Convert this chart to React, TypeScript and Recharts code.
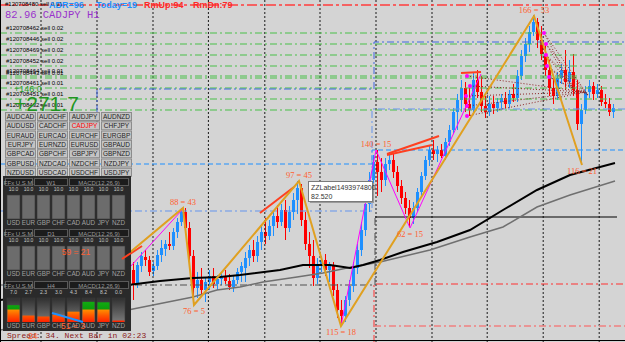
import React from 'react'
import { ComposedChart, XAxis, YAxis, Bar, Line, Scatter, ReferenceLine } from 'recharts'

const W = 625
const H = 342
const P_MIN = 81.548
const P_MAX = 83.6
const BARS = 156.25

// CADJPY H1 candles, first one sits at bar 32
const FIRST_BAR = 32
// [open, high, low, close]
const ohlc: [number, number, number, number][] = [
  [82.028, 82.070, 81.860, 81.920], [81.980, 82.028, 81.800, 81.890], [81.896, 82.028, 81.872, 82.010],
  [82.004, 82.088, 81.968, 82.064], [82.058, 82.100, 82.004, 82.040], [82.040, 82.064, 81.944, 81.968],
  [81.974, 82.028, 81.944, 82.004], [82.004, 82.100, 81.980, 82.070], [82.070, 82.160, 82.028, 82.112],
  [82.106, 82.160, 82.064, 82.136], [82.136, 82.208, 82.100, 82.124], [82.124, 82.232, 82.100, 82.208],
  [82.208, 82.292, 82.172, 82.268], [82.268, 82.352, 82.244, 82.328], [82.328, 82.352, 82.208, 82.232],
  [82.232, 82.268, 82.028, 82.064], [82.064, 82.100, 81.770, 81.872], [81.872, 81.968, 81.812, 81.920],
  [81.920, 81.992, 81.824, 81.860], [81.860, 81.932, 81.788, 81.908], [81.908, 81.980, 81.860, 81.944],
  [81.944, 81.992, 81.872, 81.896], [81.896, 81.950, 81.860, 81.926], [81.926, 81.968, 81.890, 81.944],
  [81.944, 81.980, 81.896, 81.914], [81.914, 81.956, 81.860, 81.878], [81.878, 81.944, 81.848, 81.920],
  [81.920, 81.992, 81.896, 81.968], [81.968, 82.028, 81.908, 82.004], [81.992, 82.088, 81.908, 82.052],
  [82.052, 82.130, 82.004, 82.100], [82.100, 82.160, 82.028, 82.064], [82.064, 82.184, 82.028, 82.148],
  [82.148, 82.244, 82.100, 82.208], [82.208, 82.292, 82.136, 82.184], [82.184, 82.280, 82.160, 82.244],
  [82.244, 82.340, 82.184, 82.304], [82.304, 82.370, 82.232, 82.268], [82.268, 82.376, 82.244, 82.340],
  [82.340, 82.400, 82.160, 82.232], [82.232, 82.364, 82.208, 82.328], [82.328, 82.442, 82.280, 82.400],
  [82.400, 82.514, 82.316, 82.472], [82.472, 82.496, 82.244, 82.280], [82.280, 82.328, 82.100, 82.136],
  [82.136, 82.208, 81.992, 82.064], [82.064, 82.160, 81.884, 81.932], [81.932, 82.052, 81.896, 82.016],
  [82.016, 82.064, 81.968, 82.040], [82.040, 82.076, 81.944, 81.980], [81.980, 82.028, 81.908, 82.004],
  [82.004, 82.028, 81.824, 81.860], [81.860, 81.896, 81.692, 81.740], [81.740, 81.800, 81.644, 81.704],
  [81.704, 81.824, 81.668, 81.800], [81.800, 81.920, 81.764, 81.884], [81.884, 82.028, 81.848, 81.992],
  [81.992, 82.136, 81.956, 82.100], [82.100, 82.268, 82.064, 82.220], [82.220, 82.424, 82.184, 82.376],
  [82.376, 82.568, 82.328, 82.520], [82.520, 82.670, 82.460, 82.628], [82.628, 82.700, 82.424, 82.568],
  [82.568, 82.652, 82.448, 82.520], [82.520, 82.652, 82.484, 82.616], [82.616, 82.688, 82.580, 82.640],
  [82.640, 82.682, 82.532, 82.568], [82.568, 82.604, 82.448, 82.484], [82.484, 82.520, 82.376, 82.412],
  [82.412, 82.448, 82.316, 82.352], [82.352, 82.400, 82.238, 82.292], [82.292, 82.388, 82.256, 82.352],
  [82.352, 82.472, 82.328, 82.448], [82.448, 82.568, 82.424, 82.544], [82.544, 82.664, 82.520, 82.640],
  [82.640, 82.724, 82.604, 82.700], [82.700, 82.760, 82.640, 82.676], [82.676, 82.724, 82.628, 82.700],
  [82.700, 82.736, 82.652, 82.664], [82.664, 82.772, 82.640, 82.748], [82.748, 82.850, 82.724, 82.820],
  [82.820, 82.952, 82.796, 82.928], [82.928, 83.036, 82.820, 83.000], [83.000, 83.120, 82.928, 83.072],
  [83.072, 83.108, 82.928, 82.976], [82.976, 83.084, 82.904, 82.940], [82.940, 83.168, 82.916, 83.120],
  [83.120, 83.180, 83.012, 83.048], [83.048, 83.144, 82.928, 82.964], [82.964, 83.024, 82.892, 82.928],
  [82.928, 83.024, 82.904, 82.976], [82.976, 83.024, 82.916, 82.952], [82.952, 83.012, 82.928, 82.988],
  [82.988, 83.036, 82.940, 83.012], [83.012, 83.048, 82.952, 82.976], [82.976, 83.060, 82.952, 83.036],
  [83.036, 83.096, 82.988, 83.012], [83.012, 83.180, 82.988, 83.144], [83.144, 83.300, 83.120, 83.264],
  [83.264, 83.372, 83.228, 83.336], [83.336, 83.444, 83.288, 83.408], [83.408, 83.510, 83.384, 83.468],
  [83.468, 83.492, 83.312, 83.360], [83.360, 83.444, 83.240, 83.276], [83.276, 83.336, 83.144, 83.180],
  [83.180, 83.240, 83.024, 83.072], [83.072, 83.132, 82.976, 83.024], [83.024, 83.168, 83.000, 83.132],
  [83.132, 83.216, 83.096, 83.180], [83.180, 83.300, 83.060, 83.108], [83.108, 83.240, 83.072, 83.168],
  [83.168, 83.276, 83.024, 83.060], [83.060, 83.120, 82.820, 82.856], [82.856, 82.976, 82.610, 82.940],
  [82.940, 83.084, 82.916, 83.048], [83.048, 83.120, 83.012, 83.084], [83.084, 83.108, 83.000, 83.036],
  [83.036, 83.096, 83.012, 83.060], [83.060, 83.084, 82.964, 82.988], [82.988, 83.036, 82.952, 82.976],
  [82.976, 83.012, 82.904, 82.928], [82.928, 82.976, 82.892, 82.952],
]

// moving averages, read at a few bars: [bar, price]
const MA_FAST: [number, number][] = [
  [0, 81.80], [32, 81.890], [40, 81.914], [48.25, 81.932], [55, 81.938], [60, 81.950], [70, 81.980],
  [75.75, 82.010], [82.5, 82.010], [87.5, 81.992], [90.75, 82.010], [95, 82.040], [100.75, 82.088],
  [109.25, 82.148], [117.5, 82.220], [125.75, 82.340], [134.25, 82.460], [142.5, 82.550], [153.75, 82.622],
]
const MA_SLOW: [number, number][] = [
  [0, 81.62], [32, 81.740], [40.75, 81.782], [48.25, 81.818], [54.25, 81.860], [60, 81.878], [65.75, 81.908],
  [74.25, 81.938], [80.75, 81.962], [86.75, 81.992], [95, 82.028], [107.5, 82.100], [117.5, 82.178],
  [125.75, 82.238], [134.25, 82.358], [142.5, 82.430], [153.75, 82.514],
]

// zigzag swings
const ZIGZAG: [number, number][] = [
  [18.25, 81.800], [45.75, 82.352], [48.5, 81.770], [74.75, 82.514], [85.25, 81.644], [133.5, 83.504], [145.5, 82.610],
]
const ZIGZAG_TEXT = ['', '88 = 43', '76 = 5', '97 = 45', '115 = 18', '166 = 53', '116 = 21']
const ZIGZAG_UP = [false, true, false, true, false, true, false]

const MINOR_ZZ_A: [number, number][] = [[27.5, 81.866], [45.5, 82.340]]
const MINOR_ZZ_B: [number, number][] = [[85.25, 81.644], [94, 82.700], [102.5, 82.232], [120.25, 83.156]]
const MINOR_ZZ_B_TEXT = ['', '140 = 15', '62 = 15', '']
const MINOR_ZZ_B_UP = [false, true, false, true]

const TRENDLINES: [number, number][][] = [
  [[32.5, 82.076], [35.5, 82.124]],
  [[65, 82.322], [73.5, 82.478]],
  [[96.75, 82.676], [109.75, 82.784]],
  [[96.75, 82.670], [108, 82.730]],
  [[115.25, 83.162], [120.25, 83.168]],
]

// order-fan anchors and their targets
const FAN_LEFT: [number, number][] = [[116.75, 83.144], [117.5, 83.084], [116.5, 83.024], [116.75, 82.964], [116.75, 82.904]]
const FAN_RIGHT: [number, number][] = [[136, 83.402], [136.5, 83.336], [136.5, 83.270], [136.75, 83.204], [137.25, 83.138]]
const FAN_TARGETS: [number, number][] = [[146.5, 83.048], [147, 83.030], [143.25, 83.072]]

// levels
const GRID_BARS = [10.25, 24.25, 38.25, 52.1, 66.2, 80, 94, 108, 121.8, 135.8, 149.8]
const TOP_RED = 83.57
const ORDER_LEVELS = [83.402, 83.336, 83.270, 83.204, 83.144, 83.132, 83.072, 83.006, 82.940]
const ORDER_TICKETS = ['120708462', '120708446', '120708469', '120708452', '120708464', '120708443', '120708461', '120708451', '120708432']
const ORDER_LOTS = ['0.02', '0.02', '0.02', '0.02', '0.01', '0.01', '0.01', '0.01', '0.01']

const PIVOT_A: [number, number][] = [[24.25, 82.928], [24.25, 83.066], [93.5, 83.066], [93.5, 83.348], [BARS, 83.348]]
const PIVOT_B: [number, number][] = [[0, 82.616], [93, 82.616], [93, 82.700], [BARS, 82.700]]
const PIVOT_C: [number, number][] = [[0, 82.334], [93, 82.334], [93, 82.946], [BARS, 82.946]]
const PIVOT_D: [number, number][] = [[0, 81.890], [93.75, 81.890], [93.75, 82.298]]
const PIVOT_E: [number, number][] = [[93.75, 82.298], [154.25, 82.298]]
const PIVOT_F: [number, number][] = [[93.5, P_MIN], [93.5, 81.896], [BARS, 81.896]]
const PIVOT_G: [number, number][] = [[93.5, 81.644], [BARS, 81.644]]

// left-side panel
const PAIRS = [
  ['AUDCAD', 'AUDCHF', 'AUDJPY', 'AUDNZD'],
  ['AUDUSD', 'CADCHF', 'CADJPY', 'CHFJPY'],
  ['EURAUD', 'EURCAD', 'EURCHF', 'EURGBP'],
  ['EURJPY', 'EURNZD', 'EURUSD', 'GBPAUD'],
  ['GBPCAD', 'GBPCHF', 'GBPJPY', 'GBPNZD'],
  ['GBPUSD', 'NZDCAD', 'NZDCHF', 'NZDJPY'],
  ['NZDUSD', 'USDCAD', 'USDCHF', 'USDJPY'],
]
const ACTIVE_PAIR = 'CADJPY'
const CURRENCIES = ['USD', 'EUR', 'GBP', 'CHF', 'CAD', 'AUD', 'JPY', 'NZD']
const USM_TF = ['W1', 'D1', 'H4']
const USM_W1 = [10, 10, 10, 10, 10, 10, 10, 10]
const USM_D1 = [10, 10, 10, 10, 10, 10, 10, 10]
const USM_H4 = [7.0, 2.7, 2.3, 3.0, 4.3, 8.4, 8.2, 0.0]

const candles = ohlc.map(([o, h, l, c], k) => ({ i: FIRST_BAR + k, o, c, range: [l, h] }))
const pts = (a: [number, number][]) => a.map(([i, p]) => ({ i, p }))

const DASHDOT = '7 3 2 3'

function Candle(props: any) {
  const { x, y, height, payload } = props
  if (!payload || height == null) return null
  const [lo, hi] = payload.range
  const k = height / (hi - lo)
  const yo = y + (hi - payload.o) * k
  const yc = y + (hi - payload.c) * k
  const col = payload.c >= payload.o ? '#1E90FF' : '#FF0000'
  const bx = Math.round(x)
  const top = Math.min(yo, yc)
  return (
    <g>
      <line x1={bx + 1.5} x2={bx + 1.5} y1={y} y2={y + height} stroke={col} />
      <rect x={bx} y={top} width={3} height={Math.max(1, Math.abs(yc - yo))} fill={col} />
    </g>
  )
}

const swingLabel = (texts: string[], up: boolean[]) => (props: any) => {
  const { x, y, index } = props
  const t = texts[index]
  if (!t) return null
  return (
    <text key={index} x={x} y={up[index] ? y - 3 : y + 9} textAnchor="middle" fontSize={8.5} fill="#FF6030">
      {t}
    </text>
  )
}

const py = (p: number) => ((P_MAX - p) / (P_MAX - P_MIN)) * H

function UsmPanel({ top, tf, values, colored }: { top: number; tf: string; values: number[]; colored: boolean }) {
  const bt = top + 18
  const bh = 24
  return (
    <g>
      <rect x={5.5} y={top + 1.5} width={27} height={7} fill="#1C1C1C" stroke="#5A5A5A" />
      <rect x={34.5} y={top + 1.5} width={33} height={7} fill="#1C1C1C" stroke="#5A5A5A" />
      <rect x={69.5} y={top + 1.5} width={59} height={7} fill="#1C1C1C" stroke="#5A5A5A" />
      <text x={19} y={top + 7.5} textAnchor="middle" fontSize={6} fill="#9A9A9A">FFx U.S.M.</text>
      <text x={51} y={top + 7.5} textAnchor="middle" fontSize={6} fill="#9A9A9A">{tf}</text>
      <text x={99} y={top + 7.5} textAnchor="middle" fontSize={6} fill="#9A9A9A">MACD(12,26,9)</text>
      {values.map((v, k) => {
        const x = 7 + k * 15
        const fh = (v / 10) * bh
        return (
          <g key={k}>
            <text x={x + 6.5} y={top + 14} textAnchor="middle" fontSize={5} fill="#C8C8C8">{v.toFixed(1)}</text>
            <rect x={x} y={bt} width={13} height={bh} fill={colored ? 'url(#usmGray)' : '#6C6C6C'} stroke="#3A3A3A" strokeWidth={0.6} />
            {colored && (
              <rect x={x + 0.5} y={bt + bh - Math.max(fh, 1.5)} width={12} height={Math.max(fh, 1.5)} fill="url(#usmHeat)" />
            )}
            <text x={x + 6.5} y={top + 48} textAnchor="middle" fontSize={6.3} fill="#A0A0A0">{CURRENCIES[k]}</text>
          </g>
        )
      })}
    </g>
  )
}

function Overlay() {
  const usm = [USM_W1, USM_D1, USM_H4]
  const tops = [177, 228, 280]
  return (
    <svg width={W} height={H} style={{ position: 'absolute', left: 0, top: 0 }} fontFamily='"Liberation Sans", Arial, sans-serif'>
      <defs>
        <linearGradient id="usmGray" x1="0" y1="0" x2="0" y2="1">
          <stop offset="0" stopColor="#303030" />
          <stop offset="1" stopColor="#7A7A7A" />
        </linearGradient>
        <linearGradient id="usmHeat" gradientUnits="userSpaceOnUse" x1="0" y1={298} x2="0" y2={322}>
          <stop offset="0" stopColor="#14B414" />
          <stop offset="0.46" stopColor="#0C9C0C" />
          <stop offset="0.5" stopColor="#FF8C00" />
          <stop offset="0.72" stopColor="#FF5A00" />
          <stop offset="1" stopColor="#FF2000" />
        </linearGradient>
      </defs>

      {/* frame */}
      <line x1={0.5} x2={0.5} y1={0} y2={H} stroke="#000" />
      <line x1={0} x2={W} y1={340.5} y2={340.5} stroke="#000" />

      {/* info texts */}
      <text x={5} y={6} fontSize={6} fill="#000">#120708480 sell 0.01</text>
      <g fontWeight="bold" fontSize={9}>
        <text x={49} y={8} fill="#1E90FF">ADR=96</text>
        <text x={96} y={8} fill="#1E90FF">Today=19</text>
        <text x={144} y={8} fill="#FF2828">RmUp:94</text>
        <text x={193} y={8} fill="#FF2828">RmDn:79</text>
      </g>
      <text x={5} y={18} fontFamily='"Liberation Mono", monospace' fontSize={10.5} fill="#9932CC">82.96 CADJPY H1</text>
      {ORDER_LEVELS.map((p, k) => (
        <text key={k} x={6} y={py(p) - 3} fontSize={6} fill="#000">#{ORDER_TICKETS[k]} sell {ORDER_LOTS[k]}</text>
      ))}
      <text x={14} y={92} fontSize={9} fill="#2A9A2A">+146.0</text>
      <text x={14} y={111} fontSize={21} fill="#1F961F">+271.7</text>

      {/* pair buttons */}
      {PAIRS.map((row, r) =>
        row.map((name, c) => {
          const x = 5 + c * 32
          const y = 112 + r * 9.3
          return (
            <g key={name}>
              <rect x={x + 0.5} y={y + 0.5} width={30} height={8} fill="#C4C4C4" stroke="#8C8C8C" />
              <text x={x + 15.5} y={y + 7} textAnchor="middle" fontSize={6.5} fill={name === ACTIVE_PAIR ? '#FF0000' : '#1E1E1E'}>
                {name}
              </text>
            </g>
          )
        })
      )}

      {/* currency strength panels */}
      <rect x={3} y={176} width={128} height={155} fill="#2A2A2A" />
      {USM_TF.map((tf, k) => (
        <UsmPanel key={tf} top={tops[k]} tf={tf} values={usm[k]} colored={k === 2} />
      ))}

      {/* objects that sit over the panel */}
      <line x1={122} y1={259} x2={131} y2={253} stroke="#FF4020" strokeWidth={2} />
      <line x1={52} y1={313} x2={83} y2={322} stroke="#1E90FF" strokeWidth={2} />
      <text x={76} y={255} textAnchor="middle" fontSize={8.5} fill="#FF6030">59 = 21</text>
      <text x={73} y={329} textAnchor="middle" fontSize={8.5} fill="#FF6030">51 = 3</text>
      <text x={7} y={338} fontFamily='"Liberation Mono", monospace' fontSize={8} fill="#8B1A1A">Spread: 34. Next Bar in 02:23</text>
      <text x={28} y={339} fontSize={8.5} fill="#FF6030">24</text>

      {/* chart tooltip */}
      <rect x={310} y={183} width={64} height={20} fill="#9A9A9A" />
      <rect x={308.5} y={181.5} width={64} height={20} fill="#FFFFFF" stroke="#7A7A7A" />
      <text x={311} y={190} fontSize={7} fill="#333">ZZLabel1493974800</text>
      <text x={311} y={199} fontSize={7} fill="#333">82.520</text>
    </svg>
  )
}

export default function App() {
  return (
    <div style={{ position: 'absolute', left: 0, top: 0, width: W, height: H, background: '#D4D4D4', overflow: 'hidden' }}>
      <ComposedChart width={W} height={H} data={candles} margin={{ top: 0, right: 0, bottom: 0, left: 0 }}>
        <XAxis type="number" dataKey="i" domain={[0, BARS]} hide allowDataOverflow />
        <YAxis type="number" domain={[P_MIN, P_MAX]} hide allowDataOverflow />

        {GRID_BARS.map((b) => (
          <ReferenceLine key={b} x={b} stroke="#1A1A1A" strokeDasharray="2 2" ifOverflow="visible" />
        ))}
        <ReferenceLine y={TOP_RED} stroke="#FF3C3C" strokeWidth={1.5} strokeDasharray="10 3 3 3" ifOverflow="visible" />
        {ORDER_LEVELS.map((p) => (
          <ReferenceLine key={p} y={p} stroke="#48C048" strokeDasharray={DASHDOT} ifOverflow="visible" />
        ))}

        <Line data={pts(PIVOT_A)} dataKey="p" stroke="#4169E1" strokeDasharray={DASHDOT} dot={false} activeDot={false} isAnimationActive={false} />
        <Line data={pts(PIVOT_B)} dataKey="p" stroke="#1E90FF" strokeDasharray="5 3" dot={false} activeDot={false} isAnimationActive={false} />
        <Line data={pts(PIVOT_C)} dataKey="p" stroke="#6495ED" strokeDasharray={DASHDOT} dot={false} activeDot={false} isAnimationActive={false} />
        <Line data={pts(PIVOT_D)} dataKey="p" stroke="#505050" strokeDasharray={DASHDOT} dot={false} activeDot={false} isAnimationActive={false} />
        <Line data={pts(PIVOT_E)} dataKey="p" stroke="#000000" dot={false} activeDot={false} isAnimationActive={false} />
        <Line data={pts(PIVOT_F)} dataKey="p" stroke="#FF3030" strokeDasharray={DASHDOT} dot={false} activeDot={false} isAnimationActive={false} />
        <Line data={pts(PIVOT_G)} dataKey="p" stroke="#F08080" strokeWidth={1.5} strokeDasharray={DASHDOT} dot={false} activeDot={false} isAnimationActive={false} />

        <Bar dataKey="range" barSize={3} shape={<Candle />} isAnimationActive={false} />

        <Line data={pts(MA_SLOW)} dataKey="p" stroke="#707070" strokeWidth={1.5} dot={false} activeDot={false} isAnimationActive={false} />
        <Line data={pts(MA_FAST)} dataKey="p" stroke="#000000" strokeWidth={2} dot={false} activeDot={false} isAnimationActive={false} />

        {FAN_LEFT.map((a, k) => (
          <Line key={'fl' + k} data={pts([a, FAN_TARGETS[0]])} dataKey="p" stroke="#8B2020" strokeDasharray="1 2" dot={false} activeDot={false} isAnimationActive={false} />
        ))}
        {FAN_RIGHT.map((a, k) => (
          <Line key={'fr' + k} data={pts([a, FAN_TARGETS[1]])} dataKey="p" stroke="#8B2020" strokeDasharray="1 2" dot={false} activeDot={false} isAnimationActive={false} />
        ))}
        {FAN_RIGHT.map((a, k) => (
          <Line key={'fr2' + k} data={pts([a, FAN_TARGETS[2]])} dataKey="p" stroke="#8B2020" strokeDasharray="1 2" dot={false} activeDot={false} isAnimationActive={false} />
        ))}

        {TRENDLINES.map((t, k) => (
          <Line key={'t' + k} data={pts(t)} dataKey="p" stroke="#FF4020" strokeWidth={2} dot={false} activeDot={false} isAnimationActive={false} />
        ))}

        <Line data={pts(MINOR_ZZ_A)} dataKey="p" stroke="#FF00FF" dot={false} activeDot={false} isAnimationActive={false} />
        <Line
          data={pts(MINOR_ZZ_B)}
          dataKey="p"
          stroke="#FF00FF"
          dot={false}
          activeDot={false}
          isAnimationActive={false}
          label={swingLabel(MINOR_ZZ_B_TEXT, MINOR_ZZ_B_UP)}
        />
        <Line
          data={pts(ZIGZAG)}
          dataKey="p"
          stroke="#E0A020"
          strokeWidth={2}
          dot={false}
          activeDot={false}
          isAnimationActive={false}
          label={swingLabel(ZIGZAG_TEXT, ZIGZAG_UP)}
        />

        <Scatter
          data={pts([...FAN_LEFT, ...FAN_RIGHT])}
          dataKey="p"
          isAnimationActive={false}
          shape={(p: any) => <circle cx={p.cx} cy={p.cy} r={2} fill="#FF00FF" />}
        />
      </ComposedChart>
      <Overlay />
    </div>
  )
}
